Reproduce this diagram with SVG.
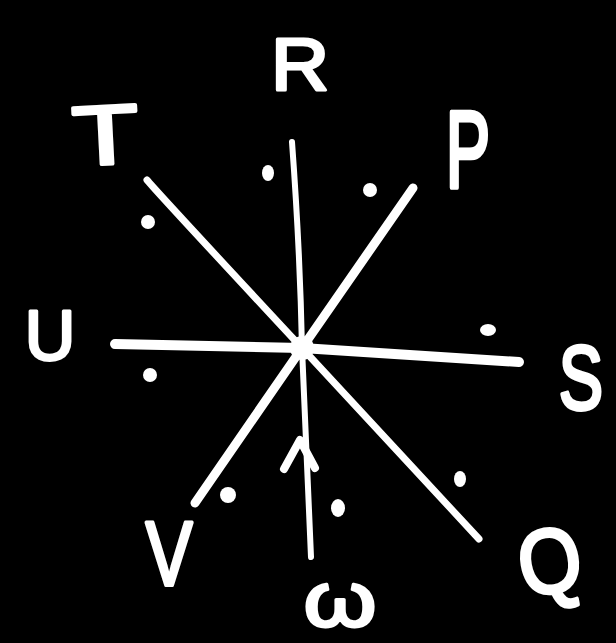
<svg xmlns="http://www.w3.org/2000/svg" width="616" height="643" viewBox="0 0 616 643">
<style>
.ln{stroke:#fff;stroke-linecap:round;fill:none}
.dot{fill:#fff}
.lb{font-family:"Liberation Sans","DejaVu Sans",sans-serif;font-size:70px;fill:#fff;stroke:#fff;stroke-width:3;stroke-linejoin:round;text-anchor:middle}
</style>
<rect width="616" height="643" fill="#000"/>
<g id="connectors">
<path class="ln" d="M292 142 Q300 250 302 348 Q306 450 311 557" stroke-width="6"/>
<path class="ln" d="M147 180 Q155 190 302 348 L479 539" stroke-width="7"/>
<path class="ln" d="M413 188 L302 348 L195 503" stroke-width="9"/>
<path class="ln" d="M115 344 L302 348 L519 362" stroke-width="10"/>
<path class="ln" d="M284 469 L300 440 L315 468" stroke-width="8" stroke-linejoin="round"/>
<circle class="dot" cx="302" cy="348" r="12"/>
</g>
<g id="dots">
<ellipse class="dot" cx="268" cy="173" rx="6" ry="8"/>
<circle class="dot" cx="370" cy="190" r="7"/>
<circle class="dot" cx="148" cy="222" r="7"/>
<circle class="dot" cx="150" cy="375" r="7"/>
<ellipse class="dot" cx="488" cy="330" rx="8" ry="6"/>
<ellipse class="dot" cx="460" cy="479" rx="6" ry="8"/>
<circle class="dot" cx="228" cy="495" r="8"/>
<ellipse class="dot" cx="338" cy="508" rx="7" ry="9"/>
</g>
<g id="R"><text class="lb" transform="translate(300,90) scale(1.15,1.05)">R</text></g>
<g id="T"><text class="lb" transform="translate(107,164) rotate(-3) scale(1.55,1.2)">T</text></g>
<g id="P"><text class="lb" transform="translate(468,187) scale(0.95,1.55)">P</text></g>
<g id="U"><text class="lb" x="50" y="360">U</text></g>
<g id="S"><text class="lb" transform="translate(581,409) scale(0.95,1.3)">S</text></g>
<g id="Q"><text class="lb" transform="translate(555,592) rotate(-10) scale(1.15,1.3)">Q</text></g>
<g id="V"><text class="lb" transform="translate(169,585) scale(1,1.3)">V</text></g>
<g id="W"><text class="lb" transform="translate(340,626) scale(1.2,1)" style="font-size:78px">ω</text></g>
</svg>
